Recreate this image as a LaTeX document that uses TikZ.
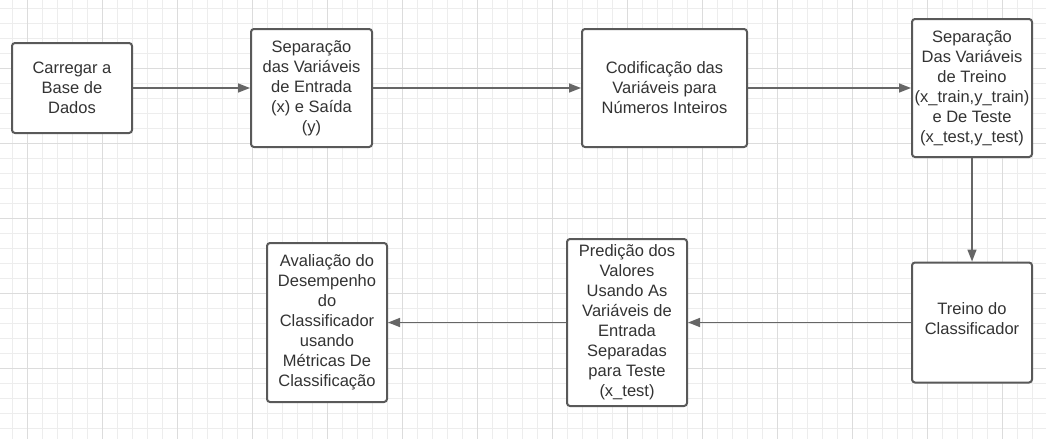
\documentclass[tikz,border=0pt]{standalone}
\usepackage{fontspec}
\setmainfont{Liberation Sans}
\usetikzlibrary{arrows.meta}
\definecolor{gridminor}{HTML}{EDEDED}
\definecolor{gridmajor}{HTML}{DCDCDC}
\definecolor{boxline}{HTML}{595959}
\definecolor{arrline}{HTML}{666666}
\definecolor{txt}{HTML}{333333}
\tikzset{
  stepbox/.style={draw=boxline, line width=2pt, rounded corners=3pt, fill=white,
    align=center, text=txt, font=\fontsize{16.5}{20}\selectfont, inner sep=0pt},
  conn/.style={draw=arrline, line width=1.5pt, -{Triangle[length=12pt,width=9pt]}}
}
\begin{document}
\begin{tikzpicture}[x=1pt,y=-1pt]
\useasboundingbox (0,0) rectangle (1046,439);
\fill[white] (0,0) rectangle (1046,439);
% grid
\foreach \i in {0,...,69} {\draw[gridminor, line width=1pt] ({12.3+15*\i},0) -- ({12.3+15*\i},439);}
\foreach \j in {0,...,29} {\draw[gridminor, line width=1pt] (0,{8.3+15*\j}) -- (1046,{8.3+15*\j});}
\foreach \i in {0,...,13} {\draw[gridmajor, line width=1pt] ({27.3+75*\i},0) -- ({27.3+75*\i},439);}
\foreach \j in {0,...,5} {\draw[gridmajor, line width=1pt] (0,{68.3+75*\j}) -- (1046,{68.3+75*\j});}
% boxes
\node[stepbox, minimum width=120pt, minimum height=90pt] (b1) at (72,88) {Carregar a\\Base de\\Dados};
\node[stepbox, minimum width=121pt, minimum height=118pt] (b2) at (311.5,88) {Separação\\das Variáveis\\de Entrada\\(x) e Saída\\(y)};
\node[stepbox, minimum width=165pt, minimum height=118pt] (b3) at (664.5,88) {Codificação das\\Variáveis para\\Números Inteiros};
\node[stepbox, minimum width=120pt, minimum height=138pt] (b4) at (972,88) {Separação\\Das Variáveis\\de Treino\\(x\_train,y\_train)\\e De Teste\\(x\_test,y\_test)};
\node[stepbox, minimum width=120pt, minimum height=120pt] (b5) at (972,322.5) {};
\node[align=center, text=txt, font=\fontsize{16.5}{20}\selectfont, inner sep=0pt] (b5t) at (972,319) {Treino do\\Classificador};
\node[stepbox, minimum width=120pt, minimum height=167pt] (b6) at (627,322.5) {Predição dos\\Valores\\Usando As\\Variáveis de\\Entrada\\Separadas\\para Teste\\(x\_test)};
\node[stepbox, minimum width=120pt, minimum height=159pt] (b7) at (327,322.5) {Avaliação do\\Desempenho\\do\\Classificador\\usando\\Métricas De\\Classificação};
% connectors
\draw[conn] (b1) -- (b2);
\draw[conn] (b2) -- (b3);
\draw[conn] (b3) -- (b4);
\draw[conn] (b4) -- (b5);
\draw[conn] (b5) -- (b6);
\draw[conn] (b6) -- (b7);
\end{tikzpicture}
\end{document}
